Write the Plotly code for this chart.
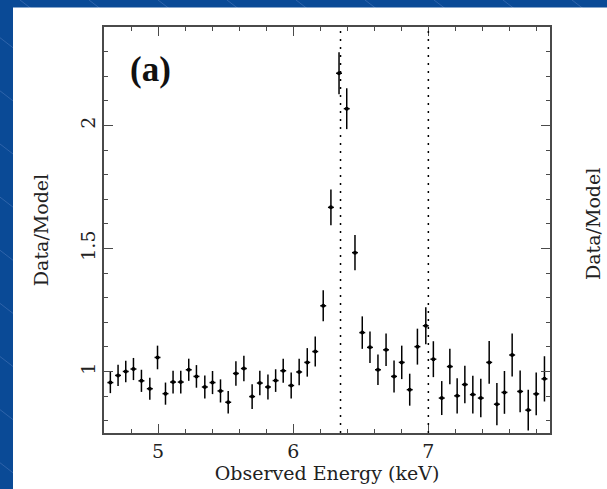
import plotly.graph_objects as go

# ---- data ----
energy_kev = [4.647, 4.704, 4.761, 4.818, 4.877, 4.939, 4.996, 5.055, 5.111, 5.168,
              5.227, 5.284, 5.346, 5.403, 5.462, 5.519, 5.576, 5.635, 5.696, 5.753,
              5.813, 5.870, 5.926, 5.985, 6.044, 6.104, 6.163, 6.222, 6.279, 6.339,
              6.396, 6.457, 6.511, 6.568, 6.627, 6.687, 6.746, 6.803, 6.862, 6.919,
              6.981, 7.037, 7.099, 7.159, 7.213, 7.270, 7.329, 7.388, 7.450, 7.507,
              7.563, 7.620, 7.679, 7.739, 7.798, 7.859]
ratio = [0.955, 0.984, 1.000, 1.010, 0.962, 0.930, 1.057, 0.910, 0.957, 0.957,
         1.007, 0.980, 0.937, 0.955, 0.921, 0.875, 0.992, 1.012, 0.898, 0.953,
         0.937, 0.963, 1.003, 0.943, 0.998, 1.037, 1.081, 1.267, 1.667, 2.212,
         2.068, 1.483, 1.158, 1.098, 1.007, 1.088, 0.980, 1.037, 0.926, 1.101,
         1.186, 1.050, 0.892, 1.020, 0.901, 0.947, 0.906, 0.892, 1.037, 0.867,
         0.915, 1.067, 0.919, 0.843, 0.909, 0.970]
ratio_err = [0.043, 0.043, 0.044, 0.045, 0.045, 0.045, 0.048, 0.045, 0.046, 0.046,
             0.045, 0.046, 0.047, 0.047, 0.047, 0.046, 0.050, 0.052, 0.050, 0.050,
             0.051, 0.046, 0.049, 0.053, 0.054, 0.058, 0.061, 0.063, 0.073, 0.085,
             0.083, 0.072, 0.066, 0.064, 0.062, 0.066, 0.065, 0.068, 0.065, 0.073,
             0.075, 0.073, 0.069, 0.072, 0.072, 0.076, 0.077, 0.078, 0.087, 0.086,
             0.087, 0.087, 0.085, 0.083, 0.087, 0.092]
bin_halfwidth = 0.022
line_energies = [6.35, 7.0]
x_ticks = [5, 6, 7]
y_ticks = [1, 1.5, 2]
y_tick_labels = ["1", "1.5", "2"]

# ---- geometry ----
W, H = 607, 489
L, R, T, B = 104, 57, 27, 56
pw, ph = W - L - R, H - T - B


def px(x):
    return (x - L) / pw


def py(y):
    return (H - B - y) / ph


FONT = "DejaVu Serif"
BLUE = "#0a4a96"
AXC = "#4a4a4a"

fig = go.Figure()
fig.add_trace(go.Scatter(
    x=energy_kev, y=ratio, mode="markers",
    marker=dict(color="black", size=4),
    error_y=dict(type="data", array=ratio_err, thickness=1.5, width=0, color="black"),
    error_x=dict(type="constant", value=bin_halfwidth, thickness=1.5, width=0, color="black"),
    showlegend=False,
))

shapes = []
# decorative diagonal lines of the slide background
for k in range(-12, 12):
    x0 = 20 + 69 * k
    shapes.append(dict(type="line", xref="paper", yref="paper", layer="below",
                       x0=px(x0), y0=py(0), x1=px(x0 + 800), y1=py(616),
                       line=dict(color="#2f64aa", width=1)))
# white slide panel
shapes.append(dict(type="rect", xref="paper", yref="paper", layer="below",
                   x0=px(13), y0=py(H + 5), x1=px(W + 5), y1=py(7.5),
                   fillcolor="white", line=dict(width=0)))
for e in line_energies:
    shapes.append(dict(type="line", xref="x", yref="paper", x0=e, x1=e, y0=0, y1=1,
                       line=dict(color="black", width=1.5, dash="2px,6px")))

fig.update_layout(
    width=W, height=H,
    margin=dict(l=L, r=R, t=T, b=B, autoexpand=False),
    paper_bgcolor=BLUE,
    plot_bgcolor="rgba(0,0,0,0)",
    shapes=shapes,
    font=dict(family=FONT, color="#222"),
    annotations=[
        dict(text="<b>(a)</b>", xref="paper", yref="paper", x=px(150), y=py(69),
             showarrow=False, font=dict(family="Liberation Serif", size=35, color="#111"),
             xanchor="center", yanchor="middle"),
        dict(text="Data/Model", xref="paper", yref="paper", x=px(593), y=py(224),
             showarrow=False, textangle=-90, font=dict(family=FONT, size=19, color="#222"),
             xanchor="center", yanchor="middle"),
    ],
)
fig.update_xaxes(
    range=[4.6, 7.9], showgrid=False, zeroline=False,
    showline=True, linecolor=AXC, linewidth=1.5, mirror="allticks",
    ticks="inside", ticklen=9, tickwidth=1.2, tickcolor=AXC,
    tickvals=x_ticks, ticktext=[str(v) for v in x_ticks],
    tickfont=dict(family=FONT, size=19, color="#222"),
    minor=dict(dtick=0.2, tick0=0, ticks="inside", ticklen=4.5, tickwidth=1.2, tickcolor=AXC),
    title=dict(text="Observed Energy (keV)", font=dict(family=FONT, size=19, color="#222"),
               standoff=3),
)
fig.update_yaxes(
    range=[0.75, 2.4], showgrid=False, zeroline=False,
    showline=True, linecolor=AXC, linewidth=1.5, mirror="allticks",
    ticks="inside", ticklen=9, tickwidth=1.2, tickcolor=AXC,
    tickvals=y_ticks, ticktext=y_tick_labels, tickangle=-90,
    tickfont=dict(family=FONT, size=19, color="#222"),
    minor=dict(dtick=0.1, tick0=0, ticks="inside", ticklen=4.5, tickwidth=1.2, tickcolor=AXC),
    title=dict(text="Data/Model", font=dict(family=FONT, size=19, color="#222"), standoff=23),
)

fig.write_html(
    "out.html",
    config={"displayModeBar": False},
    post_script="document.body.style.margin='0px';"
                "document.body.style.background='" + BLUE + "';",
)
